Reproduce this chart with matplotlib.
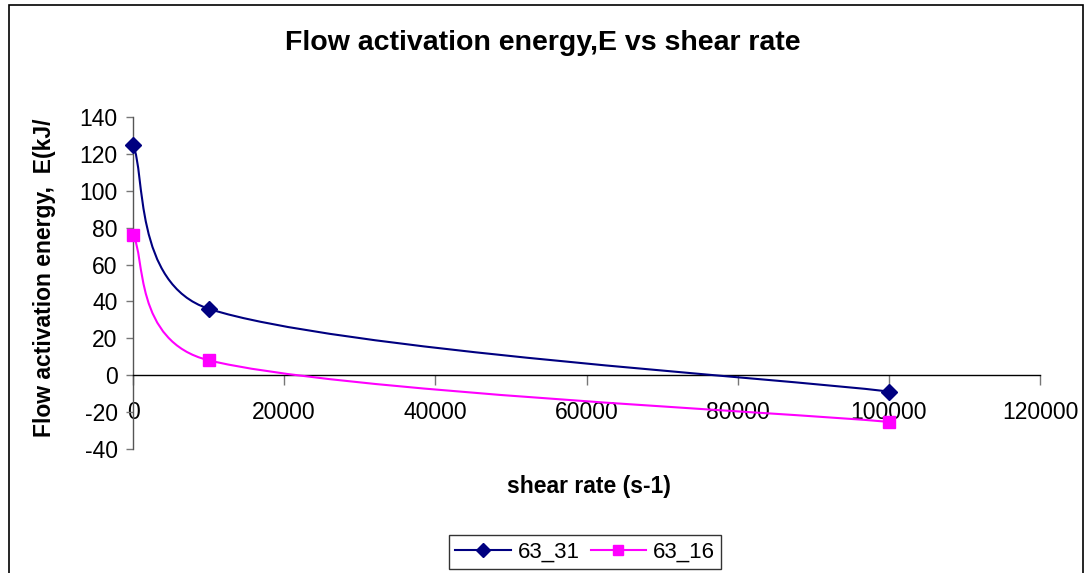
import matplotlib
matplotlib.use("Agg")
import matplotlib.pyplot as plt
import numpy as np
from matplotlib.path import Path
from matplotlib.patches import PathPatch, Rectangle
from matplotlib.lines import Line2D

# ---- data ----
shear_rate = [0, 10000, 100000]
series_names = ["63_31", "63_16"]
e_63_31 = [125, 36, -9]
e_63_16 = [76, 8, -25.5]
x_ticks = [0, 20000, 40000, 60000, 80000, 100000, 120000]
y_ticks = [-40, -20, 0, 20, 40, 60, 80, 100, 120, 140]

plt.rcParams['font.family'] = ['Liberation Sans', 'DejaVu Sans']

W, H = 1085, 573
fig = plt.figure(figsize=(W / 100, H / 100), dpi=100)
fig.patch.set_facecolor('white')

# outer chart border
fig.add_artist(Rectangle((9 / W, -0.05), (1083 - 9) / W, 1.05 - 5 / H,
                         transform=fig.transFigure, fill=False,
                         edgecolor='black', linewidth=1.2))

left, right, top, bottom = 133, 1040, 117.3, 448.6
ax = fig.add_axes([left / W, 1 - bottom / H, (right - left) / W, (bottom - top) / H])
ax.set_xlim(0, 120000)
ax.set_ylim(-40, 140)
ax.set_facecolor('none')


def excel_smooth_path(xs, ys, ax):
    """Bezier smoothing like a spreadsheet 'smoothed line', computed in display space."""
    pts = ax.transData.transform(np.column_stack([xs, ys]))
    n = len(pts)
    verts = [pts[0]]
    codes = [Path.MOVETO]
    for i in range(n - 1):
        p0 = pts[i - 1] if i > 0 else pts[i]
        p1 = pts[i]
        p2 = pts[i + 1]
        p3 = pts[i + 2] if i + 2 < n else pts[i + 1]
        t1 = (p2 - p0) / 6.0
        t2 = (p3 - p1) / 6.0
        seg = p2[0] - p1[0]
        if abs(t1[0]) > abs(seg) and t1[0] != 0:
            t1 = t1 * abs(seg) / abs(t1[0])
        if abs(t2[0]) > abs(seg) and t2[0] != 0:
            t2 = t2 * abs(seg) / abs(t2[0])
        c1 = p1 + t1
        c2 = p2 - t2
        verts += [c1, c2, p2]
        codes += [Path.CURVE4] * 3
    inv = ax.transData.inverted()
    return Path(inv.transform(np.array(verts)), codes)


styles = [
    dict(color='#000080', marker='D', ms=8),
    dict(color='#FF00FF', marker='s', ms=8.5),
]
fig.canvas.draw()
handles = []
for name, ys, st in zip(series_names, [e_63_31, e_63_16], styles):
    path = excel_smooth_path(shear_rate, ys, ax)
    ax.add_patch(PathPatch(path, facecolor='none', edgecolor=st['color'],
                           linewidth=1.5, clip_on=False, zorder=3))
    ax.plot(shear_rate, ys, linestyle='none', marker=st['marker'], ms=st['ms'],
            color=st['color'], markeredgecolor=st['color'], clip_on=False, zorder=4)
    handles.append(Line2D([], [], color=st['color'], lw=1.5, marker=st['marker'],
                          ms=st['ms'] - 1, markeredgecolor=st['color']))

# axes styling
for s in ['top', 'right']:
    ax.spines[s].set_visible(False)
ax.spines['bottom'].set_position(('data', 0))
ax.spines['left'].set_position(('data', 0))
ax.spines['bottom'].set_linewidth(1.0)
ax.spines['left'].set_linewidth(1.0)
ax.spines['bottom'].set_color('black')
ax.spines['left'].set_color('#555555')

ax.set_xticks(x_ticks)
ax.set_xticklabels([str(v) for v in x_ticks])
ax.set_yticks(y_ticks)
ax.set_yticklabels([str(v) for v in y_ticks])
ax.tick_params(axis='x', direction='out', length=7, width=1, color='#777777',
               pad=12, labelsize=16.5)
ax.tick_params(axis='y', direction='out', length=5, width=1, color='#777777',
               pad=6, labelsize=16.5)

fig.text(543 / W, 1 - 43 / H, "Flow activation energy,E vs shear rate",
         ha='center', va='center', fontsize=20.5, fontweight='bold')
fig.text(589 / W, 1 - 487 / H, "shear rate (s-1)",
         ha='center', va='center', fontsize=16.5, fontweight='bold')
fig.text(45 / W, 1 - 278 / H, "Flow activation energy,  E(kJ/",
         ha='center', va='center', rotation=90, fontsize=16.5, fontweight='bold')

leg = fig.legend(handles, series_names, loc='center', bbox_to_anchor=(585 / W, 1 - 552 / H),
                 ncol=2, frameon=True, fontsize=16, handlelength=2.5,
                 columnspacing=0.5, handletextpad=0.3, borderpad=0.3,
                 fancybox=False, edgecolor='black')
leg.get_frame().set_linewidth(1.0)

fig.savefig("out.png", dpi=100)
